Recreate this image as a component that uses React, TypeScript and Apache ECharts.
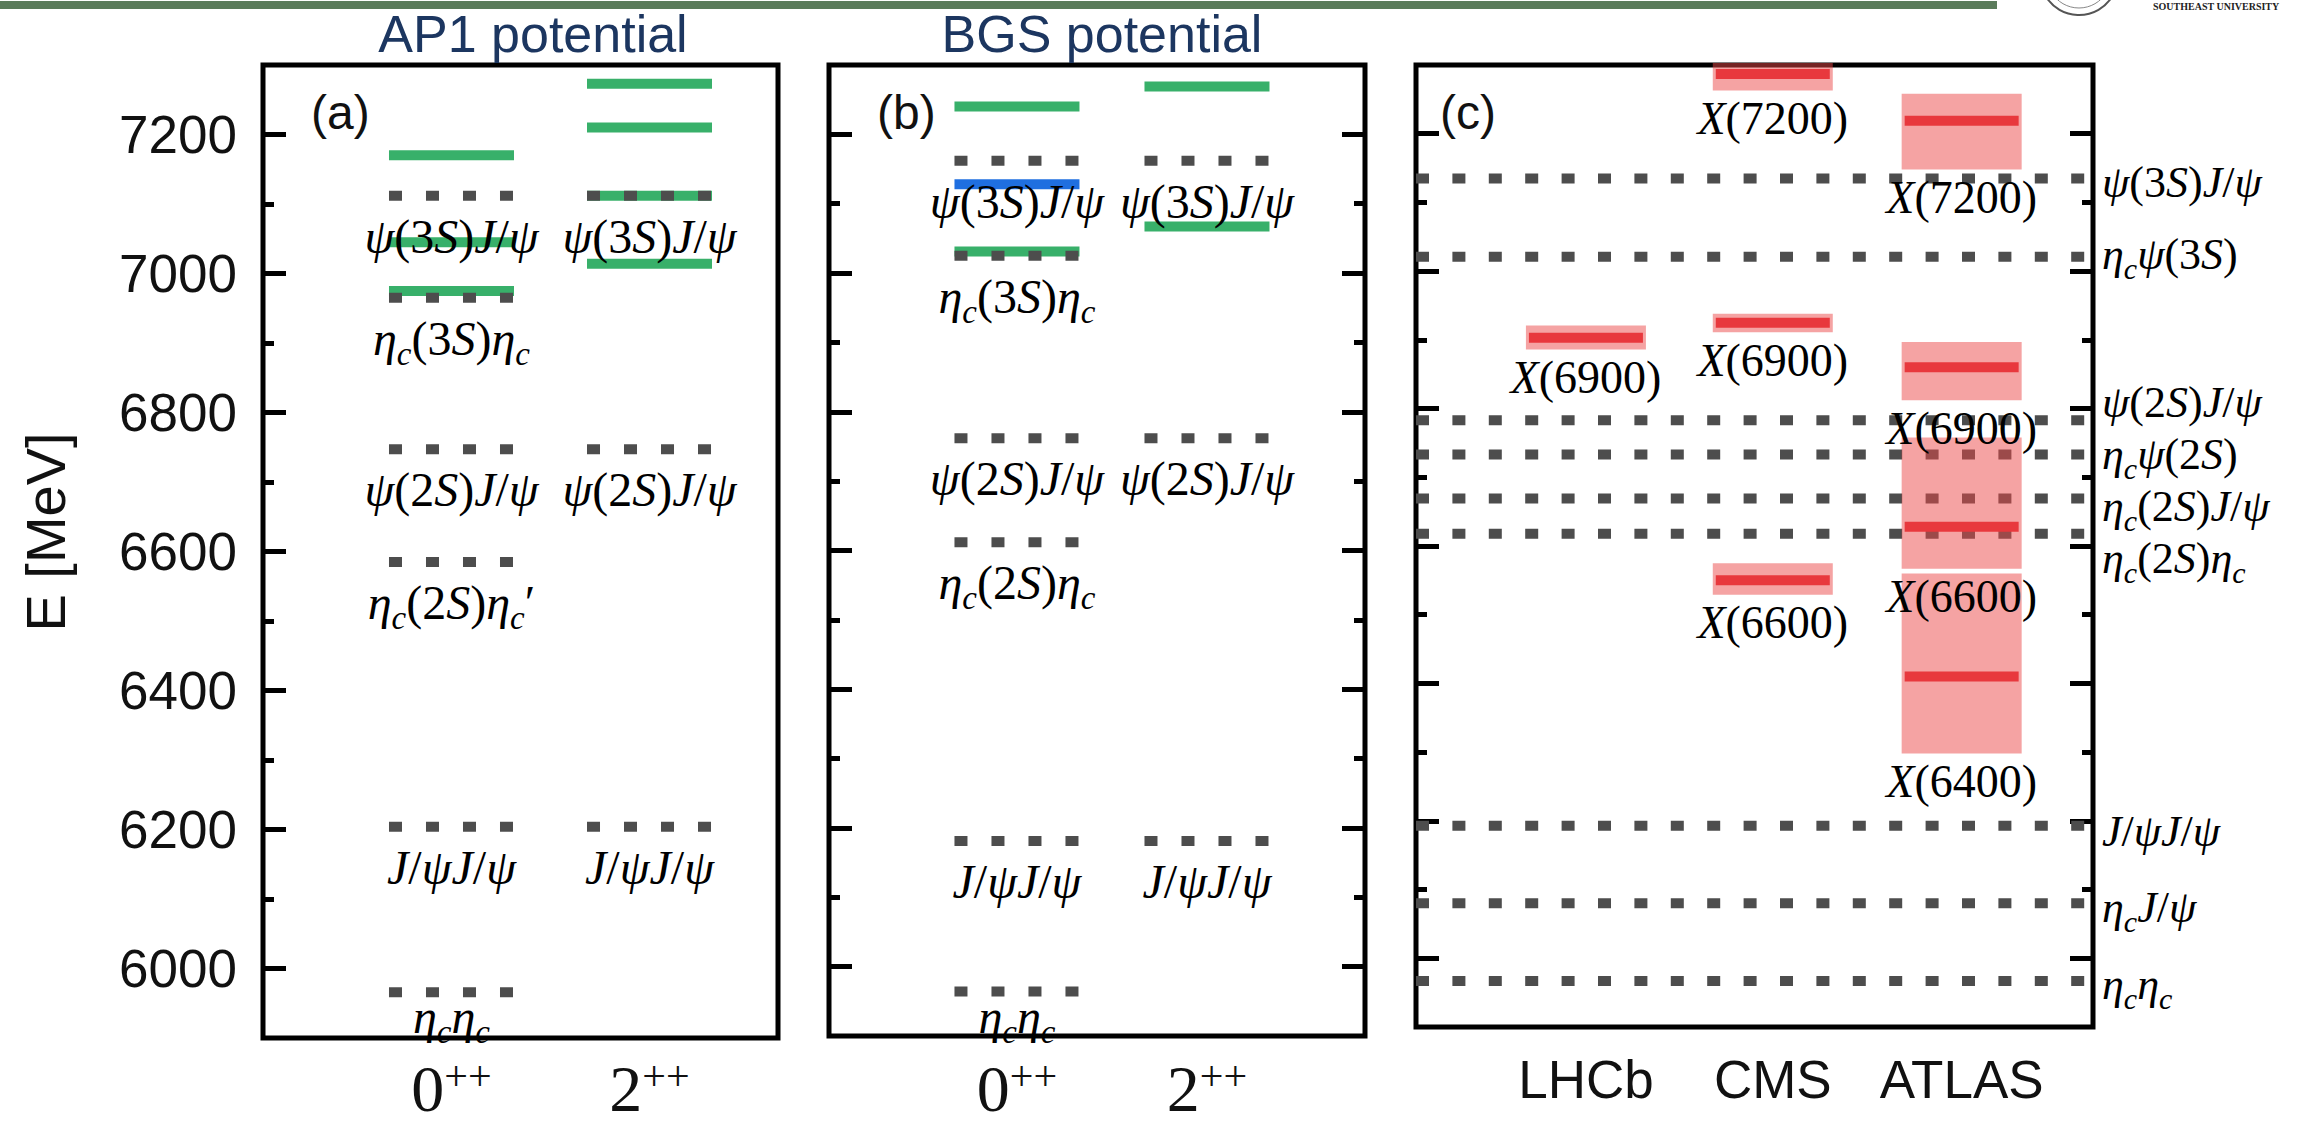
import { useEffect, useRef } from 'react';
import * as echarts from 'echarts';

// ---------------- data ----------------
const energyMajorTicks = [6000, 6200, 6400, 6600, 6800, 7000, 7200];
const energyMinorTicks = [6100, 6300, 6500, 6700, 6900, 7100];
const jpcNames = ['0++', '2++'];
const expNames = ['LHCb', 'CMS', 'ATLAS'];

// (a) AP1 potential: thresholds (dotted) and predicted states (green)
const ap1ThrCol = [0, 0, 0, 0, 0, 0, 1, 1, 1];
const ap1ThrE = [7112, 6965, 6747, 6585, 6204, 5966, 7112, 6747, 6204];
const ap1ThrName = ['ψ(3S)J/ψ', 'η_c(3S)η_c', 'ψ(2S)J/ψ', 'η_c(2S)η_c′', 'J/ψJ/ψ', 'η_cη_c', 'ψ(3S)J/ψ', 'ψ(2S)J/ψ', 'J/ψJ/ψ'];
const ap1StateCol = [0, 0, 0, 1, 1, 1, 1];
const ap1StateE = [7170, 7045, 6975, 7273, 7210, 7112, 7014];

// (b) BGS potential
const bgsThrCol = [0, 0, 0, 0, 0, 0, 1, 1, 1];
const bgsThrE = [7162, 7025, 6762, 6612, 6181, 5964, 7162, 6762, 6181];
const bgsThrName = ['ψ(3S)J/ψ', 'η_c(3S)η_c', 'ψ(2S)J/ψ', 'η_c(2S)η_c', 'J/ψJ/ψ', 'η_cη_c', 'ψ(3S)J/ψ', 'ψ(2S)J/ψ', 'J/ψJ/ψ'];
const bgsStateCol = [0, 0, 1, 1];
const bgsStateE = [7240, 7031, 7269, 7067];
const bgsBlueCol = [0];
const bgsBlueE = [7128];

// (c) experiments: thresholds and observed X states
const expThrE = [7135, 7021, 6783, 6733, 6669, 6618, 6193, 6080, 5967];
const expThrName = ['ψ(3S)J/ψ', 'η_cψ(3S)', 'ψ(2S)J/ψ', 'η_cψ(2S)', 'η_c(2S)J/ψ', 'η_c(2S)η_c', 'J/ψJ/ψ', 'η_cJ/ψ', 'η_cη_c'];
const xCol = [0, 1, 1, 1, 2, 2, 2, 2];
const xMass = [6903, 7287, 6925, 6550, 7219, 6860, 6628, 6410];
const xLow = [6886, 7263, 6911, 6529, 7148, 6812, 6567, 6298];
const xHigh = [6921, 7303, 6938, 6575, 7258, 6897, 6758, 6560];
const xName = ['X(6900)', 'X(7200)', 'X(6900)', 'X(6600)', 'X(7200)', 'X(6900)', 'X(6600)', 'X(6400)'];

// ---------------- layout / style ----------------
const FONT_SANS = '"Liberation Sans", Arial, sans-serif';
const FONT_SERIF = '"Liberation Serif", "Times New Roman", serif';
const E_MIN = 5900;
const E_MAX = 7300;
const COLX_A = [0.366, 0.7505];
const COLX_B = [0.3507, 0.7052];
const COLX_C = [0.251, 0.527, 0.806];
const HW_A = 62.5 / 515;
const HW_B = 62.5 / 536;
const HW_C = 60 / 677;
const HW_C_LINE = 57 / 677;
const GREEN = '#38b06a';
const BLUE = '#1f6fe0';
const GREY = '#4d4d4d';
const BAND = 'rgba(235,71,71,0.5)';
const RED = '#e8383d';
const TXT = '#1a1a1a';
const THR_LABEL_NUDGE = [0, -6, -22, -4, 4, 21, 2, 0, 0];
const LEVEL_LABEL_DY = [36, 36, 36, 36, 36, 20, 36, 36, 36];

function richStyles(F: number) {
  const Lm = Math.round(F * 0.82);
  const Ls = Math.round(F * 0.33);
  return {
    i: { fontFamily: FONT_SERIF, fontStyle: 'italic', fontSize: F, lineHeight: Lm, verticalAlign: 'top', color: TXT },
    r: { fontFamily: FONT_SERIF, fontStyle: 'normal', fontSize: F, lineHeight: Lm, verticalAlign: 'top', color: TXT },
    s: {
      fontFamily: FONT_SERIF, fontStyle: 'italic', fontSize: Math.round(F * 0.68), lineHeight: Ls,
      padding: [Lm - Ls, 0, 0, 0], verticalAlign: 'top', color: TXT,
    },
  };
}
const RICH_AB = richStyles(48);
const RICH_THR = richStyles(44);
const RICH_X = richStyles(46);

function mathRich(s: string) {
  const toks: [string, string][] = [];
  for (let i = 0; i < s.length; i++) {
    const ch = s[i];
    let st: string;
    let t: string;
    if (ch === '_') {
      st = 's';
      t = s[i + 1];
      i++;
    } else {
      st = /[A-Za-z\u0370-\u03FF]/.test(ch) ? 'i' : 'r';
      t = ch;
    }
    if (toks.length && toks[toks.length - 1][0] === st && st !== 's') toks[toks.length - 1][1] += t;
    else toks.push([st, t]);
  }
  return toks.map(([st, t]) => `{${st}|${t}}`).join('');
}

function levelSeries(xi: number, yi: number, colX: number[], hw: number, cols: number[], es: number[],
  color: string, dotted: boolean, names?: string[]) {
  return {
    type: 'custom', xAxisIndex: xi, yAxisIndex: yi, silent: true, clip: false,
    data: cols.map((c, i) => [c, es[i]]),
    renderItem: (params: any, api: any) => {
      const cx = colX[api.value(0)];
      const e = api.value(1);
      const a = api.coord([cx - hw, e]);
      const b = api.coord([cx + hw, e]);
      const style: any = { stroke: color, lineWidth: 10, lineCap: 'butt' };
      if (dotted) style.lineDash = [13, 24];
      const children: any[] = [{ type: 'line', shape: { x1: a[0], y1: a[1], x2: b[0], y2: b[1] }, style }];
      if (names) {
        children.push({
          type: 'text', x: (a[0] + b[0]) / 2, y: a[1] + LEVEL_LABEL_DY[params.dataIndex], z2: 5,
          style: { text: mathRich(names[params.dataIndex]), rich: RICH_AB, align: 'center', verticalAlign: 'middle' },
        });
      }
      return { type: 'group', children };
    },
  };
}

function buildOption() {
  const grids = [
    { left: 263, top: 65, width: 515, height: 973 },
    { left: 829, top: 65, width: 536, height: 971 },
    { left: 1416, top: 65, width: 677, height: 962 },
  ].map((g) => ({
    ...g, show: true, borderColor: '#000', borderWidth: 5, backgroundColor: 'transparent',
    containLabel: false, outerBoundsMode: 'none',
  }));

  const yAxes: any[] = [];
  const addY = (grid: number, position: string, major: boolean, labels: boolean) => {
    yAxes.push({
      type: 'value', gridIndex: grid, position, min: E_MIN, max: E_MAX, offset: 0,
      axisLine: { show: false }, splitLine: { show: false },
      axisTick: {
        show: true, inside: true, length: major ? 23 : 11,
        customValues: major ? energyMajorTicks : energyMinorTicks,
        lineStyle: { color: '#000', width: 5 },
      },
      axisLabel: labels
        ? {
          show: true, customValues: energyMajorTicks, fontSize: 53, fontFamily: FONT_SANS, color: '#111', margin: 26,
          formatter: (v: number) => String(v),
        }
        : { show: false },
    });
    return yAxes.length - 1;
  };
  const yA = addY(0, 'left', true, true);
  addY(0, 'left', false, false);
  const yB = addY(1, 'left', true, false);
  addY(1, 'left', false, false);
  addY(1, 'right', true, false);
  addY(1, 'right', false, false);
  const yC = addY(2, 'left', true, false);
  addY(2, 'left', false, false);
  addY(2, 'right', true, false);
  addY(2, 'right', false, false);

  const jpcRich = {
    d: { fontFamily: FONT_SERIF, fontSize: 66, lineHeight: 48, verticalAlign: 'top', color: '#111' },
    p: { fontFamily: FONT_SERIF, fontSize: 42, lineHeight: 20, verticalAlign: 'top', color: '#111' },
  };
  const findIdx = (arr: number[], v: number) => arr.findIndex((x) => Math.abs(x - v) < 1e-6);
  const jpcAxis = (grid: number, colX: number[], margin: number) => ({
    type: 'value', gridIndex: grid, min: 0, max: 1, position: 'bottom',
    axisLine: { show: false }, axisTick: { show: false }, splitLine: { show: false },
    axisLabel: {
      show: true, customValues: colX, margin, rich: jpcRich,
      formatter: (v: number) => {
        const k = findIdx(colX, v);
        if (k < 0) return '';
        const n = jpcNames[k];
        return `{d|${n[0]}}{p|${n.slice(1)}}`;
      },
    },
  });
  const xAxes = [
    jpcAxis(0, COLX_A, 17),
    jpcAxis(1, COLX_B, 19),
    {
      type: 'value', gridIndex: 2, min: 0, max: 1, position: 'bottom',
      axisLine: { show: false }, axisTick: { show: false }, splitLine: { show: false },
      axisLabel: {
        show: true, customValues: COLX_C, margin: 26, fontSize: 53, fontFamily: FONT_SANS, color: '#111',
        formatter: (v: number) => {
          const k = findIdx(COLX_C, v);
          return k < 0 ? '' : expNames[k];
        },
      },
    },
  ];

  const series: any[] = [
    // (a)
    levelSeries(0, yA, COLX_A, HW_A, ap1StateCol, ap1StateE, GREEN, false),
    levelSeries(0, yA, COLX_A, HW_A, ap1ThrCol, ap1ThrE, GREY, true, ap1ThrName),
    // (b)
    levelSeries(1, yB, COLX_B, HW_B, bgsStateCol, bgsStateE, GREEN, false),
    levelSeries(1, yB, COLX_B, HW_B, bgsBlueCol, bgsBlueE, BLUE, false),
    levelSeries(1, yB, COLX_B, HW_B, bgsThrCol, bgsThrE, GREY, true, bgsThrName),
    // (c) thresholds
    {
      type: 'custom', xAxisIndex: 2, yAxisIndex: yC, silent: true, clip: false,
      data: expThrE.map((e) => [0, e]),
      renderItem: (params: any, api: any) => {
        const e = api.value(1);
        const a = api.coord([0, e]);
        const b = api.coord([1, e]);
        return {
          type: 'group',
          children: [
            { type: 'line', shape: { x1: a[0], y1: a[1], x2: b[0], y2: b[1] }, style: { stroke: GREY, lineWidth: 10, lineDash: [13, 23.4], lineCap: 'butt' } },
            {
              type: 'text', x: b[0] + 9, y: a[1] + THR_LABEL_NUDGE[params.dataIndex],
              style: { text: mathRich(expThrName[params.dataIndex]), rich: RICH_THR, align: 'left', verticalAlign: 'middle' },
            },
          ],
        };
      },
    },
    // (c) bands
    {
      type: 'custom', xAxisIndex: 2, yAxisIndex: yC, silent: true, clip: false,
      data: xCol.map((c, i) => [c, xLow[i], xHigh[i]]),
      renderItem: (params: any, api: any) => {
        const cx = COLX_C[api.value(0)];
        const a = api.coord([cx - HW_C, api.value(2)]);
        const b = api.coord([cx + HW_C, api.value(1)]);
        return { type: 'rect', shape: { x: a[0], y: a[1], width: b[0] - a[0], height: b[1] - a[1] }, style: { fill: BAND } };
      },
    },
    // (c) central values
    {
      type: 'custom', xAxisIndex: 2, yAxisIndex: yC, silent: true, clip: false,
      data: xCol.map((c, i) => [c, xMass[i]]),
      renderItem: (params: any, api: any) => {
        const cx = COLX_C[api.value(0)];
        const a = api.coord([cx - HW_C_LINE, api.value(1)]);
        const b = api.coord([cx + HW_C_LINE, api.value(1)]);
        return { type: 'line', shape: { x1: a[0], y1: a[1], x2: b[0], y2: b[1] }, style: { stroke: RED, lineWidth: 10 } };
      },
    },
    // (c) state names
    {
      type: 'custom', xAxisIndex: 2, yAxisIndex: yC, silent: true, clip: false,
      data: xCol.map((c, i) => [c, xLow[i]]),
      renderItem: (params: any, api: any) => {
        const cx = COLX_C[api.value(0)];
        const p = api.coord([cx, api.value(1)]);
        return {
          type: 'text', x: p[0], y: p[1] + 24, z2: 10,
          style: { text: mathRich(xName[params.dataIndex]), rich: RICH_X, align: 'center', verticalAlign: 'middle' },
        };
      },
    },
  ];

  const titleStyle = { fontFamily: FONT_SANS, fontSize: 52, fill: '#1c3660', align: 'center', verticalAlign: 'middle' };
  const panelStyle = { fontFamily: FONT_SANS, fontSize: 48, fill: '#111', align: 'left', verticalAlign: 'middle' };

  return {
    animation: false,
    backgroundColor: '#fff',
    grid: grids,
    xAxis: xAxes,
    yAxis: yAxes,
    series,
    graphic: [
      { type: 'rect', silent: true, shape: { x: 0, y: 1, width: 1997, height: 8 }, style: { fill: '#5b7b5b' } },
      { type: 'circle', silent: true, shape: { cx: 2079, cy: -24, r: 39 }, style: { fill: 'none', stroke: '#555', lineWidth: 2 } },
      { type: 'circle', silent: true, shape: { cx: 2079, cy: -24, r: 32 }, style: { fill: 'none', stroke: '#888', lineWidth: 1 } },
      {
        type: 'text', silent: true, x: 2153, y: 1,
        style: { text: 'SOUTHEAST UNIVERSITY', fontFamily: FONT_SERIF, fontWeight: 'bold', fontSize: 10, fill: '#222', align: 'left', verticalAlign: 'top' },
      },
      { type: 'text', silent: true, x: 533, y: 34, style: { ...titleStyle, text: 'AP1 potential' } },
      { type: 'text', silent: true, x: 1102, y: 34, style: { ...titleStyle, text: 'BGS potential' } },
      { type: 'text', silent: true, x: 311, y: 112, style: { ...panelStyle, text: '(a)' } },
      { type: 'text', silent: true, x: 877, y: 112, style: { ...panelStyle, text: '(b)' } },
      { type: 'text', silent: true, x: 1440, y: 112, style: { ...panelStyle, text: '(c)' } },
      {
        type: 'text', silent: true, x: 45, y: 532, rotation: Math.PI / 2,
        style: { text: 'E [MeV]', fontFamily: FONT_SANS, fontSize: 56, fill: '#111', align: 'center', verticalAlign: 'middle' },
      },
    ],
  };
}

export default function App() {
  const ref = useRef<HTMLDivElement>(null);
  useEffect(() => {
    const chart = echarts.init(ref.current as HTMLDivElement, null, { renderer: 'svg' });
    chart.setOption(buildOption() as any);
    return () => chart.dispose();
  }, []);
  return (
    <div
      ref={ref}
      style={{ position: 'fixed', left: 0, top: 0, width: 2305, height: 1127, background: '#fff' }}
    />
  );
}
